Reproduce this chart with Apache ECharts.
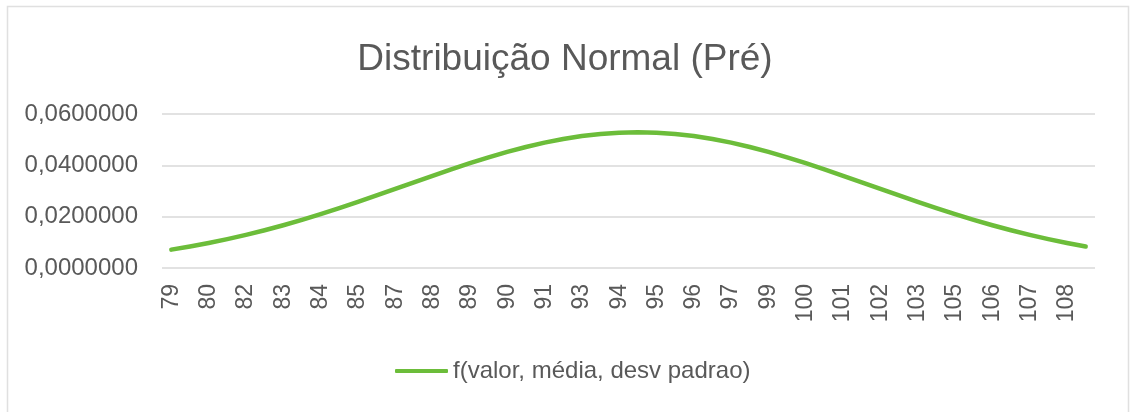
<!DOCTYPE html>
<html>
<head>
<meta charset="utf-8">
<script src="https://cdn.jsdelivr.net/npm/echarts@6/dist/echarts.min.js"></script>
<style>
  html, body { margin: 0; padding: 0; background: #fff; }
  #chart { width: 1130px; height: 412px; }
</style>
</head>
<body>
<div id="chart"></div>
<script>
var titleText = 'Distribuição Normal (Pré)';
var seriesName = 'f(valor, média, desv padrao)';

// valores (rotulos do eixo x, arredondados)
var valores = [
    79, 80, 80, 81, 82, 82, 83, 83, 84, 85,
    85, 86, 87, 87, 88, 88, 89, 90, 90, 91,
    91, 92, 93, 93, 94, 94, 95, 96, 96, 97,
    97, 98, 99, 99, 100, 100, 101, 102, 102, 103,
    103, 104, 105, 105, 106, 106, 107, 108, 108, 109
];

// f(valor, média, desv padrao)
var densidade = [
    0.00716, 0.00838, 0.00974, 0.01124, 0.01290, 0.01471, 0.01667, 0.01876, 0.02099, 0.02332,
    0.02575, 0.02826, 0.03081, 0.03338, 0.03592, 0.03842, 0.04083, 0.04311, 0.04523, 0.04715,
    0.04884, 0.05027, 0.05141, 0.05224, 0.05274, 0.05291, 0.05274, 0.05224, 0.05141, 0.05027,
    0.04884, 0.04715, 0.04523, 0.04311, 0.04083, 0.03842, 0.03592, 0.03338, 0.03081, 0.02826,
    0.02575, 0.02332, 0.02099, 0.01876, 0.01667, 0.01471, 0.01290, 0.01124, 0.00974, 0.00838
];

var yMin = 0;
var yMax = 0.06;
var yStep = 0.02;

var fonte = "'Liberation Sans', Arial, Helvetica, sans-serif";
var corTexto = '#595959';
var corGrade = '#d9d9d9';
var corLinha = '#6cbd3a';

var chart = echarts.init(document.getElementById('chart'));

var opt = {
    animation: false,
    backgroundColor: '#fff',
    title: {
        text: titleText,
        left: 'center',
        top: 36,
        textStyle: { color: corTexto, fontFamily: fonte, fontSize: 37, fontWeight: 'normal' }
    },
    legend: {
        data: [{ name: seriesName, icon: 'roundRect' }],
        left: 390,
        top: 354,
        itemWidth: 53,
        itemHeight: 4,
        itemStyle: { color: corLinha },
        textStyle: { color: corTexto, fontFamily: fonte, fontSize: 24 }
    },
    graphic: [
        {
            type: 'rect',
            shape: { x: 7.5, y: 6.5, width: 1121, height: 420 },
            style: { fill: 'none', stroke: '#e0e0e0', lineWidth: 1.5 },
            silent: true
        }
    ],
    grid: {
        left: 162,
        right: 35,
        top: 114,
        bottom: 144
    },
    xAxis: {
        type: 'category',
        boundaryGap: true,
        data: valores,
        axisLine: { show: false },
        axisTick: { show: false },
        axisLabel: {
            interval: 1,
            rotate: 90,
            margin: 16,
            color: corTexto,
            fontFamily: fonte,
            fontSize: 23
        }
    },
    yAxis: {
        type: 'value',
        min: yMin,
        max: yMax,
        interval: yStep,
        axisLine: { show: false },
        axisTick: { show: false },
        splitLine: { lineStyle: { color: corGrade, width: 1.5 } },
        axisLabel: {
            margin: 24,
            color: corTexto,
            fontFamily: fonte,
            fontSize: 24,
            formatter: function (v) {
                return v.toFixed(7).replace('.', ',');
            }
        }
    },
    series: [
        {
            name: seriesName,
            type: 'line',
            data: densidade,
            symbol: 'none',
            smooth: false,
            lineStyle: { color: corLinha, width: 4.5, cap: 'round', join: 'round' },
            itemStyle: { color: corLinha }
        }
    ]
};
chart.setOption(opt);
</script>
</body>
</html>
